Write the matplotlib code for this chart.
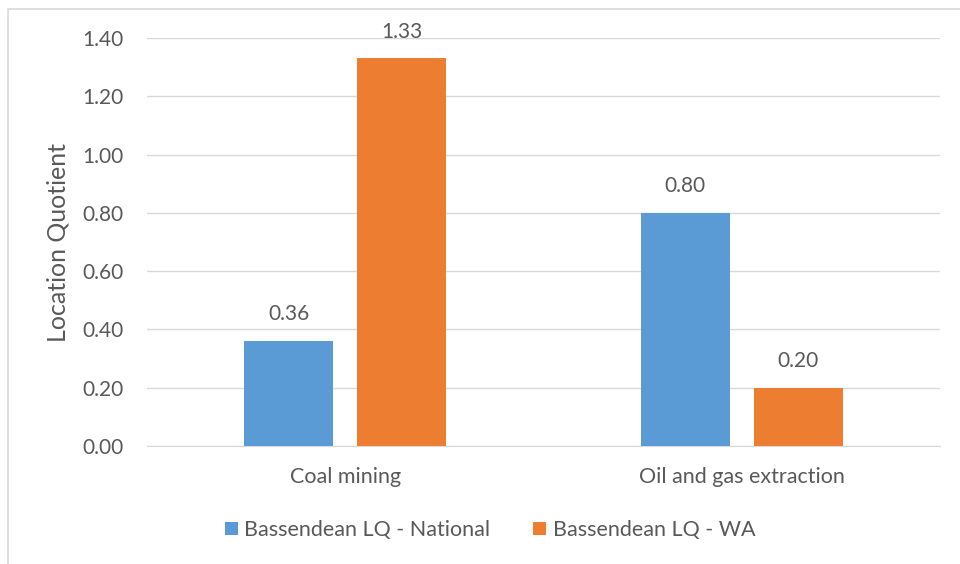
import numpy as np
import matplotlib.pyplot as plt
from matplotlib.patches import Rectangle

categories = ['Coal mining', 'Oil and gas extraction']
national = [0.36, 0.80]
wa = [1.33, 0.20]
series_names = ['Bassendean LQ - National', 'Bassendean LQ - WA']
yticks = [0.0, 0.2, 0.4, 0.6, 0.8, 1.0, 1.2, 1.4]

blue = '#5B9BD5'
orange = '#ED7D31'
text_col = '#595959'
grid_col = '#D9D9D9'

plt.rcParams['font.family'] = ['Lato', 'DejaVu Sans']

fig = plt.figure(figsize=(9.6, 5.64), dpi=100)
ax = fig.add_axes([147/960, 1 - 446/564, 793/960, 408/564])

x = np.arange(len(categories))
w = 0.225
off = 0.1425
b1 = ax.bar(x - off, national, w, color=blue, label=series_names[0], zorder=3)
b2 = ax.bar(x + off, wa, w, color=orange, label=series_names[1], zorder=3)

# value labels above the bars
for bars in (b1, b2):
    for r in bars:
        ax.annotate(f'{r.get_height():.2f}', (r.get_x() + r.get_width()/2, r.get_height()),
                    xytext=(0, 12), textcoords='offset points', ha='center', va='bottom',
                    fontsize=15, color=text_col)

ax.set_xlim(-0.5, 1.5)
ax.set_ylim(0, 1.4)
ax.set_yticks(yticks)
ax.set_yticklabels([f'{v:.2f}' for v in yticks])
ax.set_xticks(x)
ax.set_xticklabels(categories)
ax.tick_params(axis='y', length=0, labelsize=15, colors=text_col, pad=17)
ax.tick_params(axis='x', length=0, labelsize=15.5, colors=text_col, pad=15)
ax.grid(axis='y', color=grid_col, linewidth=1, zorder=0)
for s in ['top', 'right', 'left']:
    ax.spines[s].set_visible(False)
ax.spines['bottom'].set_color(grid_col)
ax.set_ylabel('Location Quotient', fontsize=18, color=text_col, labelpad=9)

leg = fig.legend(loc='center', bbox_to_anchor=(490/960, 1 - 530/564), ncol=2, frameon=False,
                 fontsize=15.5, handlelength=0.6, handleheight=0.6, handletextpad=0.3,
                 columnspacing=2.0)
for t in leg.get_texts():
    t.set_color(text_col)

# outer chart border
fig.patches.append(Rectangle((8/960, -0.1), 1.1, 1 - 9/564 + 0.1, transform=fig.transFigure,
                             fill=False, edgecolor='#D9D9D9', linewidth=1.2))

fig.savefig('out.png', dpi=100)
